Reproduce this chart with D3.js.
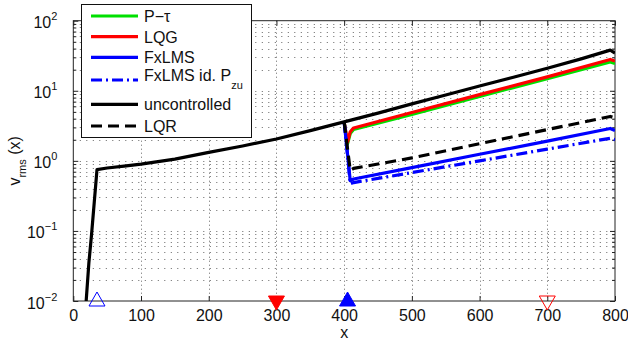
<!DOCTYPE html>
<html>
<head>
<meta charset="utf-8">
<script src="https://cdn.jsdelivr.net/npm/d3@7"></script>
<style>
body { margin: 0; background: #fff; }
svg { display: block; font-family: "Liberation Sans", Arial, Helvetica, sans-serif; }
</style>
</head>
<body>
<svg id="chart" width="628" height="344"></svg>
<script>
/* x positions and values */
let uncX = [19, 23, 27, 31, 35, 50, 75, 100, 150, 200, 250, 300, 350, 400, 450, 500, 550, 600, 650, 700, 750, 793, 800];
let uncV = [0.01, 0.035, 0.09, 0.26, 0.75, 0.79, 0.84, 0.9, 1.06, 1.32, 1.63, 2.05, 2.7, 3.6, 4.8, 6.5, 8.7, 11.7, 15.6, 21, 28.5, 38, 34.5];

/* controlled cases share the same x grid, starting where control switches on */
let ctrlX = [400, 405, 409, 414, 500, 600, 700, 793, 800];
let ptauV = [3.6, 1.75, 2.45, 2.8, 4.6, 8.3, 14.9, 25.8, 24.5];
let lqgV = [3.6, 1.85, 2.6, 2.95, 4.9, 8.8, 15.8, 28, 26.5];
let fxlmsV = [3.6, 1.25, 0.52, 0.55, 0.8, 1.24, 1.91, 2.9, 2.7];
let fxlmsIdV = [3.6, 1.2, 0.47, 0.49, 0.68, 1.0, 1.47, 2.1, 2.0];
let lqrV = [3.6, 1.48, 0.73, 0.78, 1.1, 1.76, 2.79, 4.3, 4.1];

let legendNames = ['P\u2212\u03c4', 'LQG', 'FxLMS', 'FxLMS id. P', 'uncontrolled', 'LQR'];

/* actuator / sensor markers along the x axis */
let markerX = [35, 300, 405, 700];
let markerDir = ['up', 'down', 'up', 'down'];
let markerFilled = [false, true, true, false];

let xTicks = [0, 100, 200, 300, 400, 500, 600, 700, 800];
let yDecades = [1e-2, 1e-1, 1e0, 1e1, 1e2];
let yExponents = ['\u22122', '\u22121', '0', '1', '2'];

let svg = d3.select('#chart');

let x = d3.scaleLinear().domain([0, 800]).range([73.3, 615]);
let y = d3.scaleLog().domain([1e-2, 1e2]).range([301, 20.7]);

let pLeft = x.range()[0], pRight = x.range()[1];
let pTop = y.range()[1], pBottom = y.range()[0];

svg.append('rect').attr('width', 628).attr('height', 344).attr('fill', '#fff');

/* dotted grid */
let grid = svg.append('g').attr('stroke', '#666').attr('stroke-width', 1);
grid.selectAll('.gx')
    .data(xTicks.slice(1, -1))
    .join('line')
    .attr('x1', d => Math.round(x(d)) + 0.5)
    .attr('x2', d => Math.round(x(d)) + 0.5)
    .attr('y1', pTop)
    .attr('y2', pBottom)
    .attr('stroke-dasharray', '1,3');
grid.selectAll('.gy')
    .data(y.ticks().filter(d => d > 1e-2 && d < 1e2))
    .join('line')
    .attr('x1', pLeft)
    .attr('x2', pRight)
    .attr('y1', d => Math.round(y(d)) + 0.5)
    .attr('y2', d => Math.round(y(d)) + 0.5)
    .attr('stroke-dasharray', '1,5.5');

/* axes: ticks point inwards, on all four sides */
let minorY = y.ticks().filter(d => yDecades.indexOf(d) < 0);

let xBottom = svg.append('g')
    .attr('transform', `translate(0,${pBottom})`)
    .call(d3.axisBottom(x).tickValues(xTicks).tickSize(-5).tickPadding(9).tickFormat(d3.format('d')));
let xTop = svg.append('g')
    .attr('transform', `translate(0,${pTop})`)
    .call(d3.axisTop(x).tickValues(xTicks).tickSize(-5).tickFormat(''));
let yLeft = svg.append('g')
    .attr('transform', `translate(${pLeft},0)`)
    .call(d3.axisLeft(y).tickValues(yDecades).tickSize(-5).tickPadding(16).tickFormat(''));
let yLeftMinor = svg.append('g')
    .attr('transform', `translate(${pLeft},0)`)
    .call(d3.axisLeft(y).tickValues(minorY).tickSize(-3).tickFormat(''));
let yRight = svg.append('g')
    .attr('transform', `translate(${pRight},0)`)
    .call(d3.axisRight(y).tickValues(yDecades).tickSize(-5).tickFormat(''));
let yRightMinor = svg.append('g')
    .attr('transform', `translate(${pRight},0)`)
    .call(d3.axisRight(y).tickValues(minorY).tickSize(-3).tickFormat(''));

[xBottom, xTop, yLeft, yLeftMinor, yRight, yRightMinor].forEach(g => {
    g.select('.domain').remove();
    g.selectAll('line').attr('stroke', '#222');
    g.attr('font-family', null).attr('font-size', 16);
    g.selectAll('text').attr('fill', '#111');
});

/* decade labels as 10 with a superscript exponent */
yLeft.selectAll('.tick text')
    .attr('dy', '0.44em')
    .each(function(d, i) {
        let t = d3.select(this);
        t.text('10');
        t.append('tspan')
            .attr('dy', -8)
            .attr('font-size', 11)
            .text(yExponents[i]);
    });

/* axes box */
svg.append('rect')
    .attr('x', pLeft)
    .attr('y', pTop)
    .attr('width', pRight - pLeft)
    .attr('height', pBottom - pTop)
    .attr('fill', 'none')
    .attr('stroke', '#222')
    .attr('stroke-width', 1);

/* curves */
svg.append('clipPath').attr('id', 'plot')
    .append('rect')
    .attr('x', pLeft).attr('y', pTop)
    .attr('width', pRight - pLeft).attr('height', pBottom - pTop);

let line = d3.line()
    .x(d => x(d[0]))
    .y(d => y(d[1]));

let styles = [
    {color: '#00e000', dash: null},
    {color: '#ff0000', dash: null},
    {color: '#0000ff', dash: null},
    {color: '#0000ff', dash: '11,4,2,4'},
    {color: '#000000', dash: null},
    {color: '#000000', dash: '11,6'}
];

let curves = [
    d3.zip(ctrlX, ptauV),
    d3.zip(ctrlX, lqgV),
    d3.zip(ctrlX, fxlmsV),
    d3.zip(ctrlX, fxlmsIdV),
    d3.zip(uncX, uncV),
    d3.zip(ctrlX, lqrV)
];

svg.append('g')
    .attr('clip-path', 'url(#plot)')
    .selectAll('path')
    .data(curves)
    .join('path')
    .attr('d', line)
    .attr('fill', 'none')
    .attr('stroke', (d, i) => styles[i].color)
    .attr('stroke-dasharray', (d, i) => styles[i].dash)
    .attr('stroke-width', 3.2)
    .attr('stroke-linejoin', 'round');

/* markers on the x axis */
let triUp = 'M0,-7L8,7L-8,7Z';
let triDown = 'M0,7L8,-7L-8,-7Z';
svg.append('g')
    .selectAll('path')
    .data(markerX)
    .join('path')
    .attr('transform', (d, i) => `translate(${x(d)},${y(1e-2) + (markerDir[i] === 'up' ? -2 : 2)})`)
    .attr('d', (d, i) => markerDir[i] === 'up' ? triUp : triDown)
    .attr('fill', (d, i) => markerFilled[i] ? (markerDir[i] === 'up' ? '#0000ff' : '#ff0000') : 'none')
    .attr('stroke', (d, i) => markerDir[i] === 'up' ? '#0000ff' : '#ff0000')
    .attr('stroke-width', 1);

/* axis titles */
svg.append('text')
    .attr('x', (pLeft + pRight) / 2)
    .attr('y', 338)
    .attr('text-anchor', 'middle')
    .attr('font-size', 16)
    .attr('fill', '#111')
    .text('x');

let ylab = svg.append('text')
    .attr('transform', `translate(20,${(pTop + pBottom) / 2}) rotate(-90)`)
    .attr('text-anchor', 'middle')
    .attr('font-size', 16)
    .attr('fill', '#111');
ylab.append('tspan').text('v');
ylab.append('tspan').attr('dy', 6).attr('font-size', 11).text('rms');
ylab.append('tspan').attr('dy', -6).text(' (x)');

/* legend */
let rowY = [16, 36.7, 57.3, 80, 104.3, 126];
let legend = svg.append('g');
legend.append('rect')
    .attr('x', 81.5).attr('y', 4.5)
    .attr('width', 170).attr('height', 133)
    .attr('fill', '#fff')
    .attr('stroke', '#111')
    .attr('stroke-width', 1);

let rows = legend.selectAll('.row')
    .data(legendNames)
    .join('g')
    .attr('transform', (d, i) => `translate(0,${rowY[i]})`);
rows.append('line')
    .attr('x1', 91).attr('x2', 138)
    .attr('stroke', (d, i) => styles[i].color)
    .attr('stroke-dasharray', (d, i) => styles[i].dash)
    .attr('stroke-width', 3.2);
rows.append('text')
    .attr('x', 144)
    .attr('y', (d, i) => i === 3 ? 1 : 6)
    .attr('font-size', 16)
    .attr('fill', '#111')
    .text(d => d);
rows.filter((d, i) => i === 3).select('text')
    .append('tspan')
    .attr('dy', 8)
    .attr('font-size', 11)
    .text('zu');
</script>
</body>
</html>
